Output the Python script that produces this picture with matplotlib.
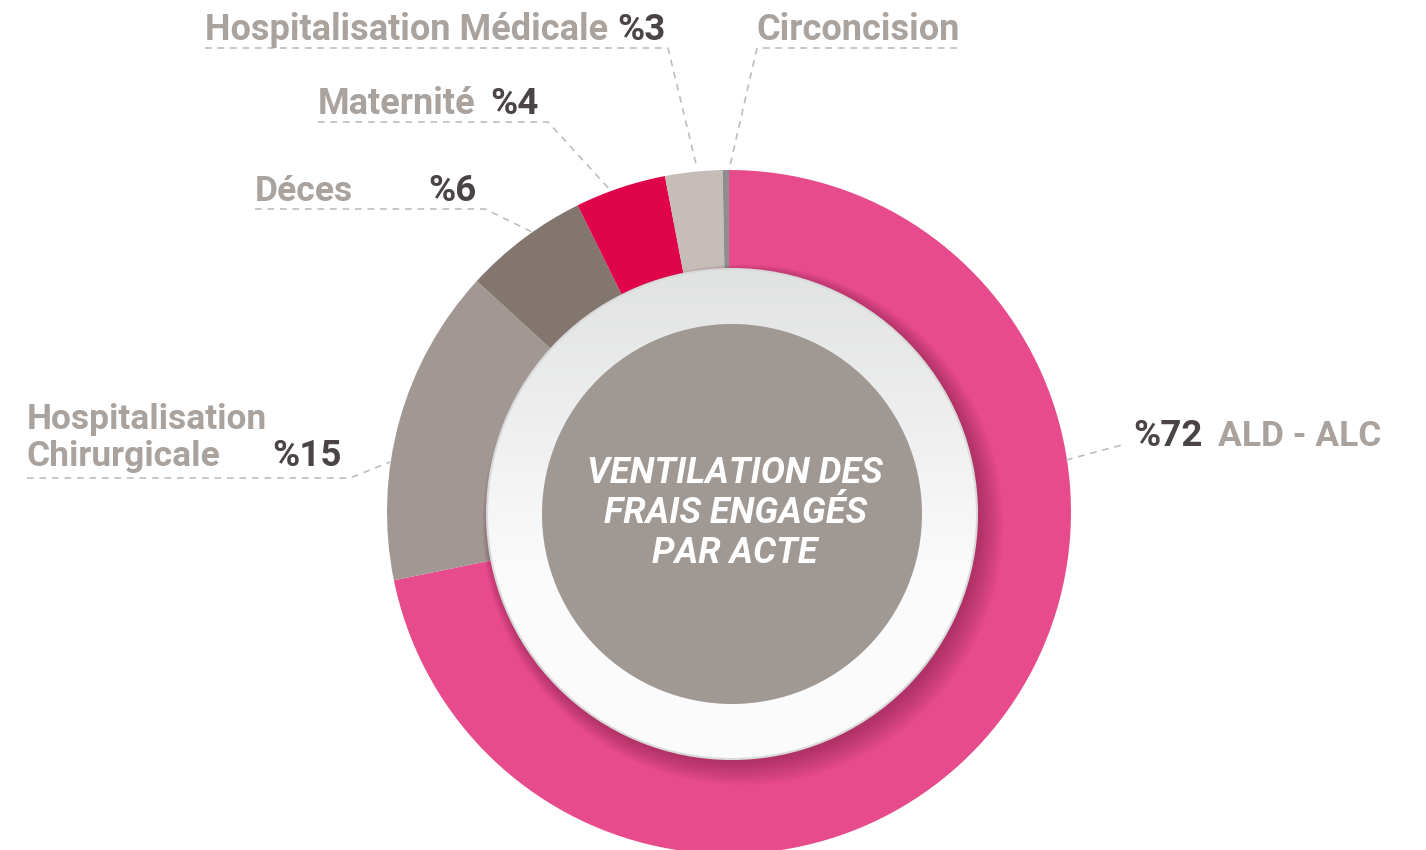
import numpy as np
import matplotlib
matplotlib.use('Agg')
import matplotlib.pyplot as plt
from matplotlib.patches import Circle

# shares (sum ~100)
categories = ['ALD - ALC', 'Hospitalisation\nChirurgicale', 'Déces', 'Maternité',
              'Hospitalisation Médicale', 'Circoncision']
shares = [71.8, 15.0, 5.9, 4.3, 2.7, 0.3]
pct_labels = ['%72', '%15', '%6', '%4', '%3', '']
colors = ['#e84b8c', '#a29893', '#82766e', '#e0054b', '#c7bdb8', '#8e8e8e']
center_title = 'VENTILATION DES\nFRAIS ENGAGÉS\nPAR ACTE'

W, H = 1426, 850
LABEL_C = '#aaa29d'
PCT_C = '#4a4446'
DASH_C = '#bdbdbd'
FONT = 'Roboto'


def py(y):
    # pixel row -> data y
    return H - y


fig = plt.figure(figsize=(W / 100, H / 100), dpi=100)
ax = fig.add_axes([0, 0, 1, 1])

cx, cy = 729, py(512)
R_out = 342
ax.pie(shares, colors=colors, startangle=90, counterclock=False,
       center=(cx, cy), radius=R_out,
       wedgeprops=dict(width=125, linewidth=0))

# inner discs sit slightly right of the ring centre
rx, ry = 732, py(514)

# soft shadow of the white ring onto the donut (lower right)
for i in range(12):
    ax.add_patch(Circle((rx + 3 + i * 0.7, ry - 3 - i * 0.7), 246 + i * 1.3,
                        facecolor='#5a1030', edgecolor='none', alpha=0.035, zorder=3))

# white ring with vertical gradient
R_ring = 245
ax.add_patch(Circle((rx, ry), R_ring, facecolor='none', edgecolor='#d9d9d9', lw=1.5, zorder=5))
grad = np.linspace(0, 1, 256).reshape(-1, 1)
top = np.array([0.882, 0.886, 0.886])
bot = np.array([0.985, 0.985, 0.985])
img = top + (bot - top) * np.clip(grad * 1.6, 0, 1)[:, :, None]
im = ax.imshow(img, extent=[rx - R_ring, rx + R_ring, ry - R_ring, ry + R_ring],
               origin='upper', zorder=4, aspect='auto')
im.set_clip_path(Circle((rx, ry), R_ring, transform=ax.transData))

# grey centre disc
ax.add_patch(Circle((rx, ry), 190, facecolor='#a09893', edgecolor='none', zorder=6))
ax.text(rx + 3, py(513), center_title, ha='center', va='center', color='white',
        fontsize=26, fontweight='bold', style='italic', family=FONT,
        linespacing=1.13, zorder=7)

dash = dict(color=DASH_C, lw=1.2, linestyle=(0, (4, 3.5)), zorder=2)
lab = dict(fontweight='bold', family=FONT, ha='left', va='baseline')

# top labels
ax.text(205, py(40), categories[4], color=LABEL_C, fontsize=26, **lab)
ax.text(617, py(40), pct_labels[4], color=PCT_C, fontsize=26.5, **lab)
ax.plot([205, 668, 697], [py(48), py(48), py(168)], **dash)

ax.text(757, py(40), categories[5], color=LABEL_C, fontsize=26, **lab)
ax.plot([957, 757, 729], [py(48), py(48), py(170)], **dash)

ax.text(318, py(114), categories[3], color=LABEL_C, fontsize=26, **lab)
ax.text(490, py(114), pct_labels[3], color=PCT_C, fontsize=26.5, **lab)
ax.plot([318, 548, 612], [py(122), py(122), py(192)], **dash)

# left labels
ax.text(255, py(201), categories[2], color=LABEL_C, fontsize=25.5, **lab)
ax.text(428, py(201), pct_labels[2], color=PCT_C, fontsize=26.5, **lab)
ax.plot([255, 485, 532], [py(209), py(209), py(232)], **dash)

ax.text(27, py(466), categories[1], color=LABEL_C, fontsize=25.5, linespacing=1.15, **lab)
ax.text(272, py(466), pct_labels[1], color=PCT_C, fontsize=26.5, **lab)
ax.plot([27, 350, 390], [py(478), py(478), py(462)], **dash)

# right label
ax.text(1133, py(446), pct_labels[0], color=PCT_C, fontsize=26.5, **lab)
ax.text(1218, py(446), categories[0], color=LABEL_C, fontsize=25.5, **lab)
ax.plot([1066, 1122], [py(460), py(445)], **dash)

ax.set_xlim(0, W)
ax.set_ylim(0, H)
ax.set_aspect('equal')
ax.axis('off')

plt.savefig('out.png', dpi=100, facecolor='white')
plt.close()
